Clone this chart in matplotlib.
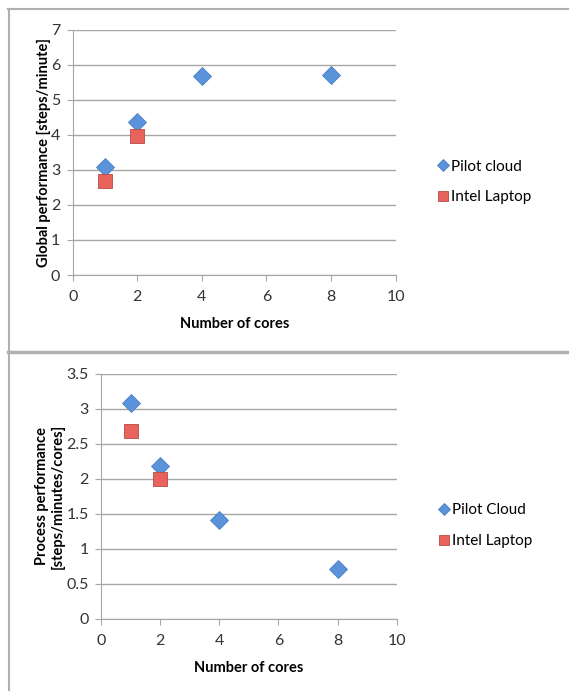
import matplotlib
matplotlib.use("Agg")
import matplotlib.pyplot as plt
from matplotlib.lines import Line2D

# cores used per run
cores_cloud = [1, 2, 4, 8]
cores_laptop = [1, 2]

# global throughput (steps/minute)
global_cloud = [3.09, 4.36, 5.67, 5.72]
global_laptop = [2.68, 3.98]

# throughput per core (steps/minutes/cores)
process_cloud = [3.09, 2.18, 1.42, 0.72]
process_laptop = [2.68, 2.0]

x_ticks = [0, 2, 4, 6, 8, 10]
global_ticks = [0, 1, 2, 3, 4, 5, 6, 7]
process_ticks = [0, 0.5, 1, 1.5, 2, 2.5, 3, 3.5]
process_ticklabels = ["0", "0.5", "1", "1.5", "2", "2.5", "3", "3.5"]

plt.rcParams['font.family'] = ['Lato', 'DejaVu Sans']
plt.rcParams['font.size'] = 10

BLUE = "#5a93d9"
BLUE_EDGE = "#4a7fc4"
RED = "#e8635c"
RED_EDGE = "#b84a45"
GRID = "#a6a6a6"

fig = plt.figure(figsize=(5.69, 6.91), dpi=100)

# panel frames
frame = dict(color="#b0b0b0", transform=fig.transFigure)
fig.add_artist(Line2D([8/569, 568/569], [1 - 9/691, 1 - 9/691], lw=1.5, **frame))
fig.add_artist(Line2D([9/569, 9/569], [1 - 9/691, 0], lw=1.5, **frame))
fig.add_artist(Line2D([8/569, 1], [1 - 352/691, 1 - 352/691], lw=2.5, **frame))


def style_axes(ax, ymax, yticks, ylabels=None):
    ax.set_xlim(0, 10)
    ax.set_ylim(0, ymax)
    ax.set_xticks(x_ticks)
    ax.set_yticks(yticks)
    if ylabels is not None:
        ax.set_yticklabels(ylabels)
    ax.grid(axis="y", color=GRID, lw=1)
    ax.set_axisbelow(True)
    for s in ["top", "right"]:
        ax.spines[s].set_visible(False)
    for s in ["left", "bottom"]:
        ax.spines[s].set_color(GRID)
    ax.tick_params(direction="out", length=4, color=GRID, labelsize=11.5,
                   labelcolor="#333333")
    ax.tick_params(axis="x", pad=7)
    ax.tick_params(axis="y", pad=5)
    ax.set_xlabel("Number of cores", fontweight="bold", fontsize=10.5, labelpad=9)


def draw_series(ax, xc, yc, xl, yl, cloud_name):
    ax.plot(xc, yc, ls="none", marker="D", ms=9, mfc=BLUE, mec=BLUE_EDGE,
            mew=0.6, label=cloud_name, zorder=3)
    ax.plot(xl, yl, ls="none", marker="s", ms=10, mfc=RED, mec=RED_EDGE,
            mew=0.6, label="Intel Laptop", zorder=3)


legend_kw = dict(loc="center left", frameon=False,
                 handlelength=0.5, handletextpad=0.25, labelspacing=1.1,
                 markerscale=0.65, fontsize=11, bbox_transform=fig.transFigure)

ax1 = fig.add_axes([0.1278, 0.602, 0.5676, 0.355])
draw_series(ax1, cores_cloud, global_cloud, cores_laptop, global_laptop, "Pilot cloud")
style_axes(ax1, 7, global_ticks)
ax1.set_ylabel("Global performance [steps/minute]", fontweight="bold", fontsize=10.5,
               labelpad=0)
ax1.legend(bbox_to_anchor=(0.748, 0.7366), **legend_kw)

ax2 = fig.add_axes([0.1775, 0.1042, 0.5197, 0.3546])
draw_series(ax2, cores_cloud, process_cloud, cores_laptop, process_laptop, "Pilot Cloud")
style_axes(ax2, 3.5, process_ticks, process_ticklabels)
ax2.set_ylabel("Process performance\n[steps/minutes/cores]", fontweight="bold",
               fontsize=10.5, linespacing=1.1, labelpad=1)
ax2.legend(bbox_to_anchor=(0.75, 0.2395), **legend_kw)

fig.savefig("out.png", dpi=100)
